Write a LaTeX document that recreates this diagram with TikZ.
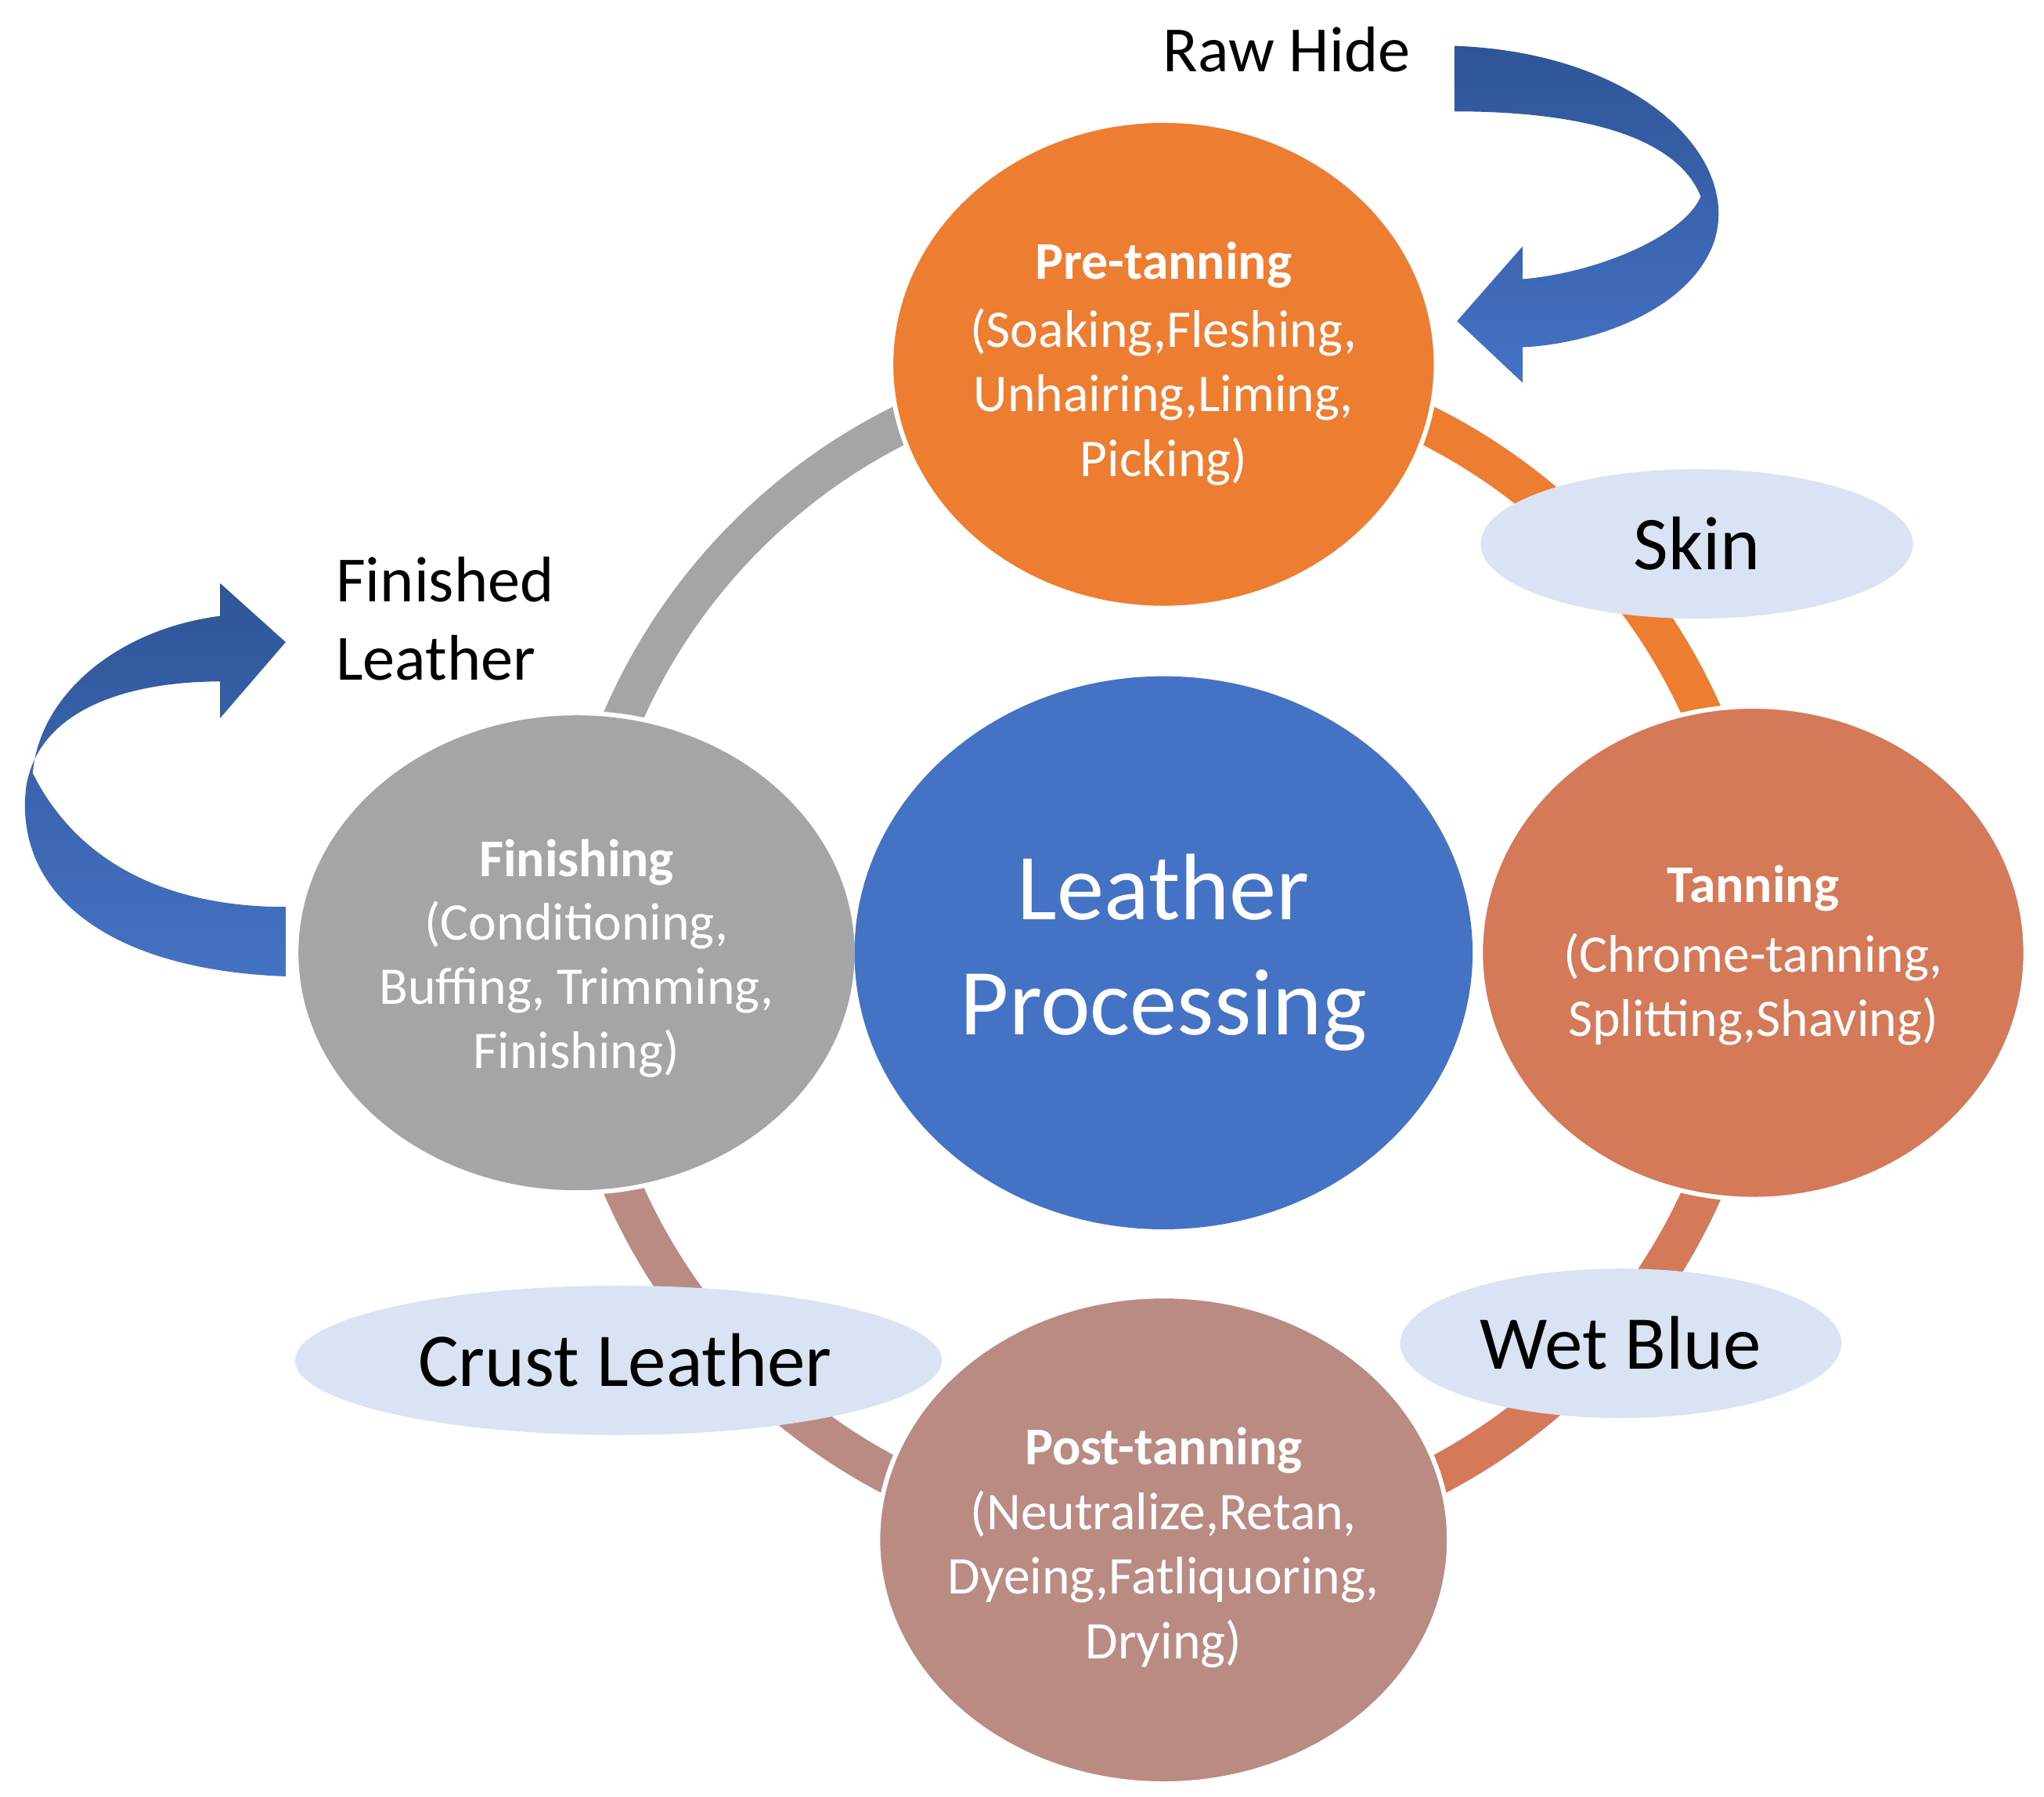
\documentclass[tikz,border=0pt]{standalone}
\usepackage{fontspec}
\setmainfont{Carlito}
\usetikzlibrary{shapes.geometric}
\begin{document}
\begin{tikzpicture}[x=1cm,y=1cm,
  lbl/.style={text=white,align=center,font=\fontsize{11.5}{14}\selectfont},
  ttl/.style={text=white,font=\bfseries\fontsize{11.5}{14}\selectfont},
  ribbon/.style={draw=none,top color=arrtop,bottom color=arrbot}]
\definecolor{pre}{HTML}{ED7D31}
\definecolor{tan}{HTML}{D57A58}
\definecolor{post}{HTML}{BA8B82}
\definecolor{fin}{HTML}{A5A5A5}
\definecolor{core}{HTML}{4472C4}
\definecolor{prodc}{HTML}{DAE3F3}
\definecolor{arrtop}{HTML}{2F5597}
\definecolor{arrbot}{HTML}{4472C4}
\useasboundingbox (0,0) rectangle (15.6,-13.71);
\coordinate (c) at (8.88,-7.27);
% ring
\draw[pre,line width=8.5pt] (c) ++(90:4.5) arc (90:0:4.5);
\draw[tan,line width=8.5pt] (c) ++(0:4.5) arc (0:-90:4.5);
\draw[post,line width=8.5pt] (c) ++(-90:4.5) arc (-90:-180:4.5);
\draw[fin,line width=8.5pt] (c) ++(180:4.5) arc (180:90:4.5);
% stage circles
\node[ellipse,fill=pre,draw=white,line width=1pt,minimum width=4.16cm,minimum height=3.72cm] (pre) at (8.88,-2.78) {};
\node[ellipse,fill=tan,draw=white,line width=1pt,minimum width=4.16cm,minimum height=3.76cm] (tan) at (13.38,-7.27) {};
\node[ellipse,fill=post,draw=white,line width=1pt,minimum width=4.36cm,minimum height=3.72cm] (post) at (8.88,-11.75) {};
\node[ellipse,fill=fin,draw=white,line width=1pt,minimum width=4.28cm,minimum height=3.66cm] (fin) at (4.40,-7.27) {};
\node[ellipse,fill=core,minimum width=4.18cm,minimum height=4.22cm,text=white,align=center,font=\fontsize{20.5}{25}\selectfont] (core) at (c) {Leather\\Processing};
% texts
\node[ttl] (pret) at (8.88,-2.02) {Pre-tanning};
\node[lbl] (pred) at (8.88,-2.78) {(Soaking,Fleshing,\\Unhairing,Liming,};
\node[lbl] (pred2) at (8.88,-3.52) {Picking)};
\node[ttl] (tant) at (13.38,-6.78) {Tanning};
\node[lbl] (tand) at (13.38,-7.55) {(Chrome-tanning,\\Splitting,Shaving)};
\node[ttl] (postt) at (8.88,-11.07) {Post-tanning};
\node[lbl] (postd) at (8.88,-12.05) {(Neutralize,Retan,\\Dyeing,Fatliquoring,\\Drying)};
\node[ttl] (fint) at (4.40,-6.58) {Finishing};
\node[lbl] (find) at (4.40,-7.55) {(Conditioning,\\Buffing, Trimming,\\Finishing)};
% products
\node[ellipse,fill=prodc,minimum width=3.3cm,minimum height=1.14cm,font=\fontsize{16.5}{20}\selectfont] (skin) at (12.95,-4.15) {Skin};
\node[ellipse,fill=prodc,minimum width=3.3cm,minimum height=1.14cm,font=\fontsize{16.5}{20}\selectfont] (wet) at (12.37,-10.25) {Wet Blue};
\node[ellipse,fill=prodc,minimum width=4.5cm,minimum height=1.14cm,font=\fontsize{16.5}{20}\selectfont] (crust) at (4.72,-10.38) {\hspace*{0.1cm}Crust Leather};
% outside labels
\node[font=\fontsize{14}{17}\selectfont] (raw) at (9.82,-0.38) {Raw Hide};
\node[font=\fontsize{14}{17}\selectfont,align=left,anchor=west] (finl) at (2.44,-4.72) {Finished\\Leather};
% curved arrows
\path[ribbon] (11.10,-0.35) .. controls (12.5,-0.40) and (13.30,-1.20) .. (13.08,-1.85)
  .. controls (12.90,-2.35) and (12.20,-2.62) .. (11.62,-2.65)
  -- (11.62,-2.92) -- (11.12,-2.45) -- (11.62,-1.88) -- (11.62,-2.13)
  .. controls (12.20,-2.08) and (12.85,-1.80) .. (12.98,-1.50)
  .. controls (12.80,-1.05) and (12.10,-0.85) .. (11.10,-0.85) -- cycle;
\path[ribbon] (2.18,-7.45) .. controls (0.80,-7.40) and (0.10,-6.80) .. (0.20,-6.00)
  .. controls (0.30,-5.40) and (1.00,-5.20) .. (1.68,-5.20)
  -- (1.68,-5.48) -- (2.18,-4.90) -- (1.68,-4.45) -- (1.68,-4.70)
  .. controls (0.90,-4.80) and (0.30,-5.30) .. (0.25,-5.90)
  .. controls (0.60,-6.60) and (1.30,-6.92) .. (2.18,-6.92) -- cycle;
\end{tikzpicture}
\end{document}
